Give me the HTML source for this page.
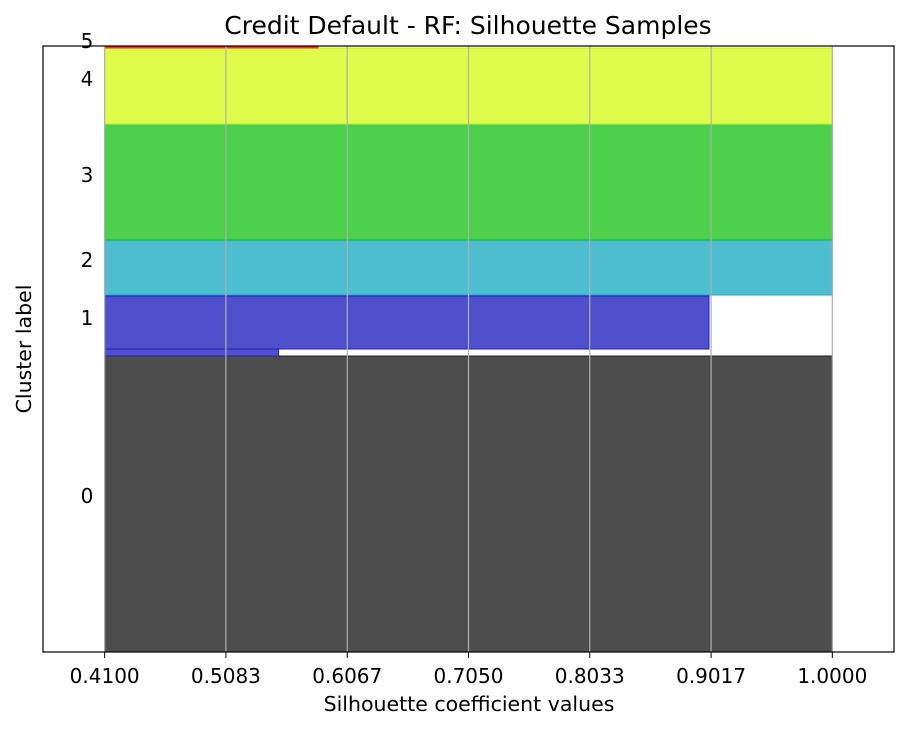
<!DOCTYPE html>
<html><head><meta charset="utf-8"><style>
body{margin:0;background:#fff}
svg text{font-family:"DejaVu Sans","Liberation Sans",sans-serif;fill:#000}
</style></head><body>
<svg id="chart" width="912" height="730" xmlns="http://www.w3.org/2000/svg">
<g id="marks"></g>
<g id="grid"></g>
<rect x="43" y="46" width="851" height="606" fill="none" stroke="#000" stroke-width="1.2"/>
<g id="axes"></g>
<text x="468" y="34" font-size="25" text-anchor="middle">Credit Default - RF: Silhouette Samples</text>
<text x="469" y="711" font-size="20.5" text-anchor="middle">Silhouette coefficient values</text>
<text transform="translate(31,349) rotate(-90)" font-size="20.5" text-anchor="middle">Cluster label</text>
</svg>
<script>
const xTicks=[0.41,0.5083,0.6067,0.705,0.8033,0.9017,1.0];
const xTickLabels=["0.4100","0.5083","0.6067","0.7050","0.8033","0.9017","1.0000"];
const clusterIds=[0,1,1,2,3,4,5,5];
const segStart=[0,296,303,357,412,528,604,605];
const segEnd=[296,303,356,412,528,604,605,606];
const segValue=[1.0,0.551,0.9,1.0,1.0,1.0,0.583,0.5];
const labelNames=["0","1","2","3","4","5"];
const labelPos=[156,334,392,477,573,611];
const colors=["#4d4d4d","#4f4fcc","#4dbecf","#4dd14d","#dffc4b","#f05050"];
const edges=["#222222","#2020c0","#10a8c0","#10b830","#c8e820","#f03030"];
const NS="http://www.w3.org/2000/svg";
const X0=0.36,X1=1.05,Y0=0,Y1=606;
const px=v=>43+(v-X0)/(X1-X0)*851;
const py=v=>652-(v-Y0)/(Y1-Y0)*606;
function mk(tag,attrs,parent){const e=document.createElementNS(NS,tag);for(const k in attrs)e.setAttribute(k,attrs[k]);parent.appendChild(e);return e;}
const marks=document.getElementById('marks'),grid=document.getElementById('grid'),axes=document.getElementById('axes');
for(let i=0;i<segStart.length;i++){
  const c=clusterIds[i];
  const r=mk('rect',{x:px(0.41),y:py(segEnd[i]),width:px(segValue[i])-px(0.41),height:py(segStart[i])-py(segEnd[i]),fill:colors[c],stroke:edges[c],'stroke-width':1},marks);
  
  
}
xTicks.forEach((t,i)=>{
  const g=mk('line',{x1:px(t),x2:px(t),y1:46,y2:652,stroke:'#b0b0b0','stroke-width':1.2},grid);
  
  
  const tk=mk('line',{x1:px(t),x2:px(t),y1:652,y2:658,stroke:'#000'},axes);
  
  
  const tx=mk('text',{x:px(t),y:683,'font-size':20,'text-anchor':'middle'},axes);
  tx.textContent=xTickLabels[i];
  
  
});
labelNames.forEach((n,i)=>{
  const tx=mk('text',{x:87,y:py(labelPos[i])+7,'font-size':20,'text-anchor':'middle'},axes);
  tx.textContent=n;
  
  
});
</script>
</body></html>
